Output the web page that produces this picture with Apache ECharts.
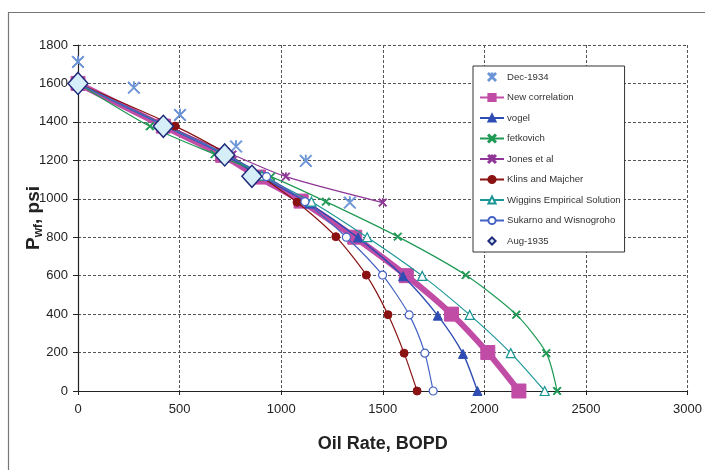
<!DOCTYPE html>
<html><head><meta charset="utf-8">
<script src="https://cdn.jsdelivr.net/npm/echarts@6/dist/echarts.min.js"></script>
<style>html,body{margin:0;padding:0;background:#fff}#c{width:705px;height:470px}</style>
</head><body><div id="c"></div>
<script>
// ---- data (oil rate BOPD, Pwf psi) ----
const xTicks = [0, 500, 1000, 1500, 2000, 2500, 3000];
const yTicks = [0, 200, 400, 600, 800, 1000, 1200, 1400, 1600, 1800];
const dec1934 = [[0,1712],[275,1578],[502,1436],[778,1272],[1121,1197],[1338,980]];
const newCorr = [[0,1600],[420,1378],[712,1226],[888,1113],[1098,988],[1362,800],[1616,600],[1838,400],[2017,200],[2170,0]];
const vogel = [[0,1600],[425,1380],[720,1230],[890,1120],[1138,975],[1378,798],[1600,597],[1771,392],[1895,193],[1966,0]];
const fetkovich = [[0,1600],[354,1377],[672,1232],[950,1115],[1220,985],[1574,803],[1908,603],[2157,397],[2305,197],[2358,0]];
const jones = [[0,1600],[440,1380],[760,1230],[1023,1115],[1500,980]];
const klins = [[0,1600],[478,1378],[740,1230],[903,1115],[1078,982],[1269,803],[1419,603],[1526,397],[1605,197],[1669,0]];
const wiggins = [[0,1600],[430,1380],[730,1230],[905,1120],[1149,985],[1423,800],[1694,599],[1928,396],[2130,197],[2297,0]];
const sukarno = [[0,1600],[425,1380],[725,1230],[928,1115],[1117,985],[1321,800],[1499,603],[1630,396],[1707,197],[1748,0]];
const aug1935 = [[0,1600],[420,1377],[722,1228],[856,1117]];

const FONT = 'Liberation Sans, Arial, sans-serif';
const XMARK = 'path://M0,1L1,0L5,4L9,0L10,1L6,5L10,9L9,10L5,6L1,10L0,9L4,5Z';
const STAR = 'path://M0,1L1,0L4.5,3.5L4.5,0L5.5,0L5.5,3.5L9,0L10,1L6,5L10,9L9,10L5,6L1,10L0,9L4,5Z';
const THINSTAR = 'path://M0,0.7L0.7,0L4.65,3.95L4.65,0L5.35,0L5.35,3.95L9.3,0L10,0.7L5.7,5L10,9.3L9.3,10L5,5.7L0.7,10L0,9.3L4.3,5Z';

function lineSeries(name, data, color, opts) {
  return Object.assign({
    name, type: 'line', data, smooth: 0.25,
    symbol: 'circle', symbolSize: 7, showAllSymbol: true,
    lineStyle: { color, width: 1.2 },
    itemStyle: { color, borderColor: color, borderWidth: 1 },
    z: 3
  }, opts || {});
}

const chart = echarts.init(document.getElementById('c'), null, { renderer: 'canvas' });
chart.setOption({
  backgroundColor: '#fff',
  animation: false,
  textStyle: { fontFamily: FONT },
  graphic: [{
    type: 'rect', shape: { x: 8.5, y: 12.5, width: 720, height: 480 },
    style: { fill: 'none', stroke: '#777', lineWidth: 1.2 }, silent: true, z: -1
  }],
  grid: { left: 78, right: 17, top: 45, bottom: 79 },
  legend: {
    orient: 'vertical', left: 473, top: 66,
    padding: [6, 4, 6, 6],
    backgroundColor: '#fff', borderColor: '#333', borderWidth: 1,
    itemWidth: 24, itemHeight: 9, itemGap: 10.5,
    textStyle: { fontFamily: FONT, fontSize: 9.6, color: '#333', lineHeight: 9, padding: [0,0,0,-2] },
    data: ['Dec-1934','New correlation','vogel','fetkovich','Jones et al','Klins and Majcher','Wiggins Empirical Solution','Sukarno and Wisnogroho','Aug-1935']
  },
  xAxis: {
    type: 'value', min: 0, max: 3000, interval: 500,
    name: 'Oil Rate, BOPD', nameLocation: 'middle', nameGap: 44,
    nameTextStyle: { fontFamily: FONT, fontSize: 18, fontWeight: 'bold', color: '#222' },
    axisLine: { show: true, onZero: false, lineStyle: { color: '#222', width: 1.2 } },
    axisTick: { show: true, inside: false, length: 4, lineStyle: { color: '#222' } },
    axisLabel: { fontFamily: FONT, fontSize: 13, color: '#222', margin: 12,
      formatter: v => xTicks.includes(v) ? String(v) : '' },
    splitLine: { show: true, lineStyle: { color: '#555', type: [3, 2], width: 1 } }
  },
  yAxis: {
    type: 'value', min: 0, max: 1800, interval: 200,
    name: '{b|P}{s|wf}{b|, psi}', nameLocation: 'middle', nameGap: 33, nameMoveOverlap: false,
    nameTextStyle: { rich: {
      b: { fontFamily: FONT, fontSize: 19, fontWeight: 'bold', color: '#222', lineHeight: 22, verticalAlign: 'middle' },
      s: { fontFamily: FONT, fontSize: 12, fontWeight: 'bold', color: '#222', lineHeight: 22, verticalAlign: 'bottom', padding: [10,0,0,0] }
    } },
    axisLine: { show: true, lineStyle: { color: '#222', width: 1.2 } },
    axisTick: { show: true, inside: false, length: 5, lineStyle: { color: '#222' } },
    axisLabel: { fontFamily: FONT, fontSize: 13, color: '#222', margin: 10,
      formatter: v => yTicks.includes(v) ? String(v) : '' },
    splitLine: { show: true, lineStyle: { color: '#555', type: [3, 2], width: 1 } }
  },
  series: [
    lineSeries('Dec-1934', dec1934, '#6b94d6', { symbol: THINSTAR, symbolSize: 12,
      lineStyle: { color: '#6b94d6', width: 0, opacity: 0 }, smooth: false, z: 6 }),
    lineSeries('New correlation', newCorr, '#c14ca6', { symbol: 'rect', symbolSize: 14,
      lineStyle: { color: '#c14ca6', width: 6 }, z: 2 }),
    lineSeries('vogel', vogel, '#2f4db3', { symbol: 'triangle', symbolSize: 9, lineStyle: { color: '#2f4db3', width: 1.4 } }),
    lineSeries('fetkovich', fetkovich, '#1f9a55', { symbol: XMARK, symbolSize: 8 }),
    lineSeries('Jones et al', jones, '#8e3596', { symbol: STAR, symbolSize: 8 }),
    lineSeries('Klins and Majcher', klins, '#8a1212', { symbol: 'circle', symbolSize: 8 }),
    lineSeries('Wiggins Empirical Solution', wiggins, '#1b9696', { symbol: 'triangle', symbolSize: 9,
      itemStyle: { color: '#fff', borderColor: '#1b9696', borderWidth: 1.2 } }),
    lineSeries('Sukarno and Wisnogroho', sukarno, '#4563c4', { symbol: 'circle', symbolSize: 8,
      itemStyle: { color: '#fff', borderColor: '#4563c4', borderWidth: 1.2 } }),
    lineSeries('Aug-1935', aug1935, '#1f2a7a', { symbol: 'diamond', symbolSize: [20, 22],
      lineStyle: { color: '#1f2a7a', width: 0, opacity: 0 }, smooth: false,
      itemStyle: { color: '#d6eef8', borderColor: '#1f2a7a', borderWidth: 1.5 }, z: 7 })
  ]
});
</script></body></html>
